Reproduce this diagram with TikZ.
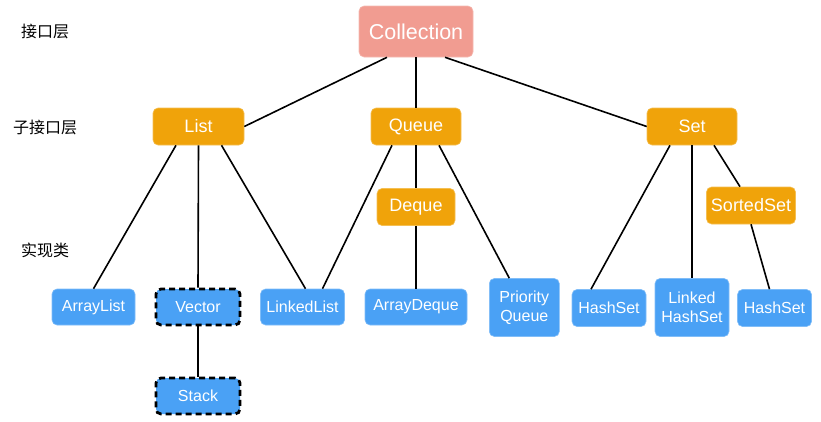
\documentclass[tikz,border=0pt]{standalone}
\usepackage{fontspec}
\setmainfont{Liberation Sans}
\newfontfamily\cjk{Noto Sans CJK SC}
\usepackage{xcolor}
\usepackage{tikz}
\definecolor{collpink}{HTML}{F19C91}
\definecolor{ifaceorange}{HTML}{F0A30A}
\definecolor{implblue}{HTML}{4AA1F5}

\begin{document}
\begin{tikzpicture}[x=1pt, y=-1pt,
	basebox/.style={text=white, rounded corners=5, inner sep=0, align=center, line width=0.6},
	rootbox/.style={basebox, fill=collpink, draw=collpink!70!white, font=\fontsize{21.5}{24}\selectfont, minimum width=114, minimum height=51},
	ifacebox/.style={basebox, fill=ifaceorange, draw=ifaceorange!70!white, font=\fontsize{18}{21}\selectfont, minimum height=37},
	implbox/.style={basebox, fill=implblue, draw=implblue!70!white, font=\fontsize{16}{19.5}\selectfont, minimum height=36},
	legacybox/.style={implbox, draw=black, line width=2.8, dash pattern=on 6pt off 4pt},
	layertext/.style={font=\cjk\fontsize{16}{19}\selectfont, inner sep=0},
	edge/.style={line width=1.6}
]
\useasboundingbox (0,0) rectangle (821,421);

% layer labels
\node[layertext] (lbl1) at (45,31)  {接口层};
\node[layertext] (lbl2) at (45,127) {子接口层};
\node[layertext] (lbl3) at (45,250) {实现类};

% interfaces
\node[rootbox] (coll) at (416,31.5) {Collection};
\node[ifacebox, minimum width=91] (lst)   at (198.5,126.5) {List};
\node[ifacebox, minimum width=90] (queue) at (416,126.5)   {Queue};
\node[ifacebox, minimum width=90] (set)   at (692,126.5)   {Set};
\node[ifacebox, minimum width=78] (deque) at (416,207)     {Deque};
\node[ifacebox, minimum width=89] (sset)  at (751,205.5)   {SortedSet};

% implementations
\node[implbox, minimum width=83]   (alist)  at (93.5,307)  {ArrayList};
\node[legacybox, minimum width=84] (vec)    at (198,307)   {Vector};
\node[legacybox, minimum width=84] (stk)    at (198,396)   {Stack};
\node[implbox, minimum width=84]   (llist)  at (302.5,307) {LinkedList};
\node[implbox, minimum width=102]  (adeque) at (416,307)   {ArrayDeque};
\node[implbox, minimum width=70, minimum height=58] (pq)  at (524.3,307.5) {Priority\\Queue};
\node[implbox, minimum width=74, minimum height=37] (hs1) at (609,308)     {HashSet};
\node[implbox, minimum width=74, minimum height=58] (lhs) at (692,307.5)   {Linked\\HashSet};
\node[implbox, minimum width=74, minimum height=37] (hs2) at (774.5,308)   {HashSet};

% connectors
\draw[edge] ([xshift=-29]coll.south) -- (lst.east);
\draw[edge] (coll.south) -- (queue.north);
\draw[edge] ([xshift=29]coll.south) -- (set.west);

\draw[edge] ([xshift=-22.5]lst.south) -- (alist.north);
\draw[edge] (lst.south) -- (vec.north);
\draw[edge] ([xshift=23]lst.south) -- ([xshift=3]llist.north);
\draw[edge] (vec.south) -- (stk.north);

\draw[edge] ([xshift=-24]queue.south) -- ([xshift=20]llist.north);
\draw[edge] (queue.south) -- (deque.north);
\draw[edge] ([xshift=23]queue.south) -- ([xshift=-15]pq.north);
\draw[edge] (deque.south) -- (adeque.north);

\draw[edge] ([xshift=-22]set.south) -- ([xshift=-18]hs1.north);
\draw[edge] (set.south) -- (lhs.north);
\draw[edge] ([xshift=22]set.south) -- ([xshift=-11]sset.north);
\draw[edge] (sset.south) -- ([xshift=-5]hs2.north);
\end{tikzpicture}
\end{document}
